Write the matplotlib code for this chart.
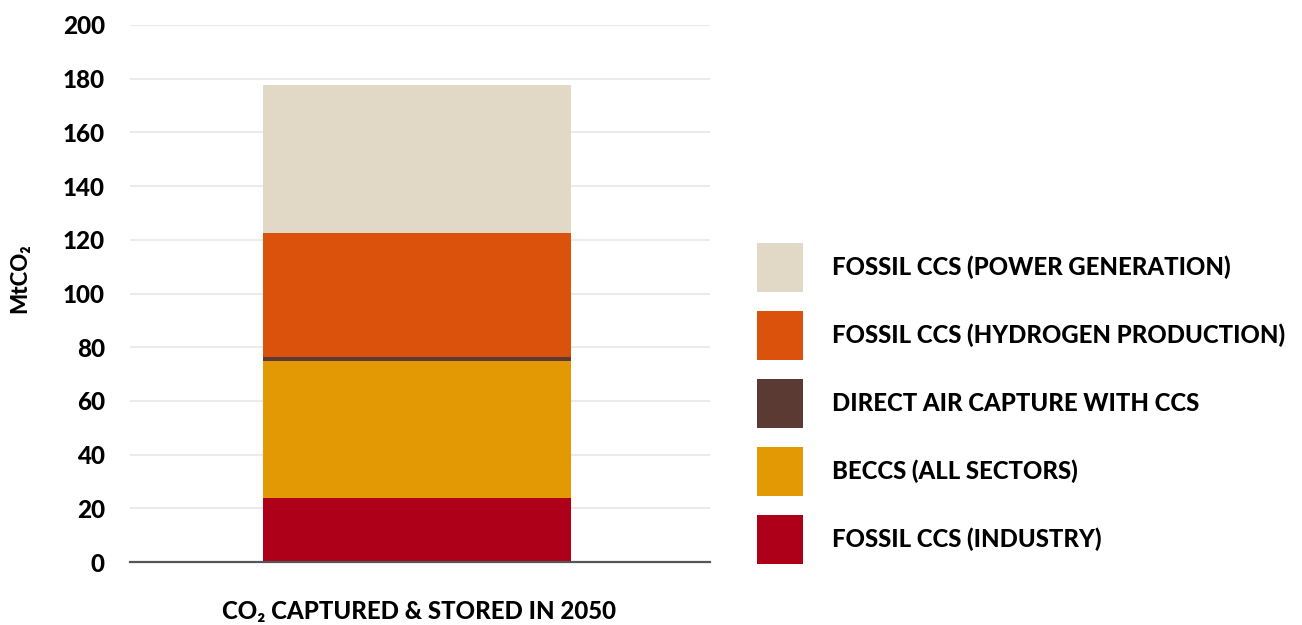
import matplotlib.pyplot as plt

plt.rcParams['font.family'] = ['Lato', 'DejaVu Sans']
plt.rcParams['font.weight'] = 900
plt.rcParams['axes.labelweight'] = 900

# Stacked segments, bottom to top (MtCO2 in 2050)
sectors = [
    "FOSSIL CCS (INDUSTRY)",
    "BECCS (ALL SECTORS)",
    "DIRECT AIR CAPTURE WITH CCS",
    "FOSSIL CCS (HYDROGEN PRODUCTION)",
    "FOSSIL CCS (POWER GENERATION)",
]
values = [24.0, 51.0, 1.5, 46.0, 55.0]
colors = ["#ae0019", "#e39904", "#5b3a33", "#db520d", "#e2d8c6"]
yticks = [0, 20, 40, 60, 80, 100, 120, 140, 160, 180, 200]

fig = plt.figure(figsize=(13.02, 6.25), dpi=100)
ax = fig.add_axes([0.0998, 0.1008, 0.4455, 0.8592])

handles = []
bottom = 0
for name, v, c in zip(sectors, values, colors):
    h = ax.bar(0, v, width=1.062, bottom=bottom, color=c, label=name, zorder=3)
    handles.append(h)
    bottom += v

ax.set_xlim(-0.99, 1.01)
ax.set_ylim(0, 200)
ax.set_yticks(yticks)
ax.set_xticks([])
ax.tick_params(axis='y', length=0, pad=18, labelsize=17.5)
ax.grid(axis='y', color='#ebebeb', linewidth=1.5, zorder=0)
for s in ['top', 'right', 'left']:
    ax.spines[s].set_visible(False)
ax.spines['bottom'].set_color('#555555')
ax.spines['bottom'].set_linewidth(1.6)
ax.spines['bottom'].set_zorder(4)

ax.set_ylabel("MtCO₂", fontsize=16)
ax.yaxis.set_label_coords(-0.172, 0.529)
fig.text(0.322, 0.0208, "CO₂ CAPTURED & STORED IN 2050", ha='center', va='center',
         fontsize=17.3)

fig.legend(handles[::-1], sectors[::-1], loc='upper left',
           bbox_to_anchor=(0.5814, 0.6112), frameon=False, borderpad=0,
           borderaxespad=0, fontsize=17.2, handlelength=1.93, handleheight=2.79,
           handletextpad=1.2, labelspacing=0.79)

fig.savefig("out.png", dpi=100)
